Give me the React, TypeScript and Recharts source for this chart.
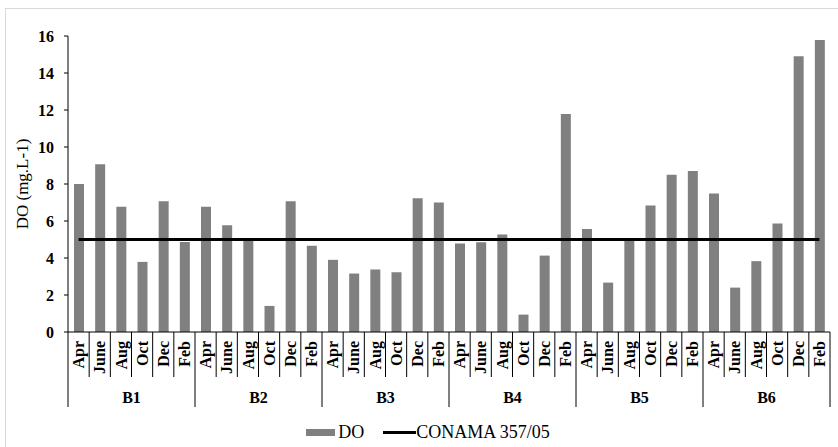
import {
  ComposedChart,
  Bar,
  Line,
  XAxis,
  YAxis,
  Legend,
} from "recharts";

const groups = ["B1", "B2", "B3", "B4", "B5", "B6"];
const months = ["Apr", "June", "Aug", "Oct", "Dec", "Feb"];

const b1 = [8.0, 9.07, 6.77, 3.79, 7.07, 4.87];
const b2 = [6.77, 5.77, 5.02, 1.41, 7.07, 4.66];
const b3 = [3.9, 3.16, 3.38, 3.23, 7.23, 7.0];
const b4 = [4.78, 4.85, 5.27, 0.94, 4.13, 11.78];
const b5 = [5.57, 2.67, 4.96, 6.84, 8.5, 8.7];
const b6 = [7.49, 2.4, 3.83, 5.87, 14.9, 15.79];
const doValues = [b1, b2, b3, b4, b5, b6];

const CONAMA_LIMIT = 5;
const yTicks = [0, 2, 4, 6, 8, 10, 12, 14, 16];

const data = groups.flatMap((g, gi) =>
  months.map((m, mi) => ({
    key: `${g}-${m}`,
    group: g,
    month: m,
    oxygen: doValues[gi][mi],
    conama: CONAMA_LIMIT,
  }))
);

const W = 838;
const H = 447;
const MARGIN = { top: 36, right: 8, bottom: 0, left: 8 };
const Y_AXIS_W = 60;
const PLOT_W = W - MARGIN.left - MARGIN.right - Y_AXIS_W;
const FONT = "Liberation Serif, Times New Roman, serif";

function MonthTick(props: any) {
  const { x, y, index } = props;
  const bw = PLOT_W / data.length;
  const row = data[index];
  if (!row) return null;
  const isGroupStart = index % months.length === 0;
  const isLast = index === data.length - 1;
  const left = x - bw / 2;
  return (
    <g>
      <line x1={left} y1={y} x2={left} y2={y + (isGroupStart ? 75 : 45)} stroke="#000" strokeWidth={1} />
      {isLast && (
        <line x1={x + bw / 2} y1={y} x2={x + bw / 2} y2={y + 75} stroke="#000" strokeWidth={1} />
      )}
      <text
        x={x}
        y={y + 9}
        dy="0.35em"
        transform={`rotate(-90, ${x}, ${y + 9})`}
        textAnchor="end"
        fontFamily={FONT}
        fontWeight="bold"
        fontSize={16}
        fill="#000"
      >
        {row.month}
      </text>
      {isGroupStart && (
        <text
          x={left + (bw * months.length) / 2}
          y={y + 71}
          textAnchor="middle"
          fontFamily={FONT}
          fontWeight="bold"
          fontSize={16}
          fill="#000"
        >
          {row.group}
        </text>
      )}
    </g>
  );
}

function ChartLegend() {
  return (
    <div
      style={{
        height: 30,
        display: "flex",
        alignItems: "center",
        justifyContent: "center",
        paddingLeft: 18,
        fontFamily: FONT,
        fontSize: 18,
        color: "#000",
      }}
    >
      <span style={{ display: "inline-block", width: 29, height: 7, background: "#808080", marginRight: 3 }} />
      <span>DO</span>
      <span style={{ display: "inline-block", width: 33, height: 3, background: "#000", marginLeft: 19 }} />
      <span>CONAMA 357/05</span>
    </div>
  );
}

export default function App() {
  return (
    <div
      style={{
        position: "fixed",
        left: 0,
        top: 0,
        width: W,
        height: H,
        overflow: "hidden",
        background: "#fff",
      }}
    >
      <div
        style={{
          position: "absolute",
          left: 5,
          top: 8,
          width: 900,
          height: 500,
          border: "1px solid #d9d9d9",
        }}
      />
      <div style={{ position: "absolute", left: 0, top: 0 }}>
        <ComposedChart width={W} height={H} data={data} margin={MARGIN}>
          <XAxis
            dataKey="key"
            interval={0}
            tickLine={false}
            tickSize={0}
            tickMargin={0}
            height={85}
            axisLine={{ stroke: "#000" }}
            tick={<MonthTick />}
          />
          <YAxis
            width={Y_AXIS_W}
            domain={[0, 16]}
            ticks={yTicks}
            interval={0}
            tickSize={4}
            tickMargin={10}
            axisLine={{ stroke: "#000" }}
            tickLine={{ stroke: "#000" }}
            tick={{ fill: "#000", fontFamily: FONT, fontWeight: "bold", fontSize: 16 }}
            label={{
              value: "DO (mg.L-1)",
              angle: -90,
              position: "insideLeft",
              offset: 14,
              style: { fill: "#000", fontFamily: FONT, fontSize: 17, textAnchor: "middle" },
            }}
          />
          <Legend verticalAlign="bottom" content={<ChartLegend />} />
          <Bar dataKey="oxygen" name="DO" fill="#808080" barSize={10} isAnimationActive={false} />
          <Line
            type="linear"
            dataKey="conama"
            name="CONAMA 357/05"
            stroke="#000"
            strokeWidth={3}
            dot={false}
            activeDot={false}
            isAnimationActive={false}
          />
        </ComposedChart>
      </div>
    </div>
  );
}
